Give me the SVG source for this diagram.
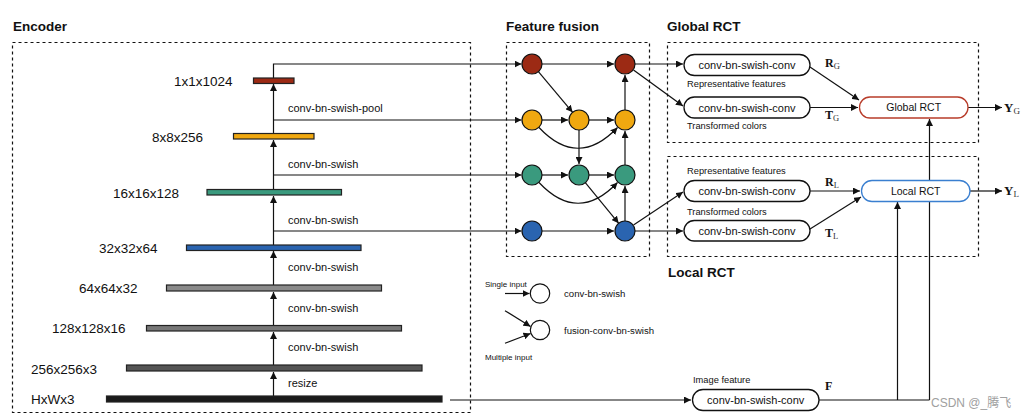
<svg xmlns="http://www.w3.org/2000/svg" width="1027" height="419" viewBox="0 0 1027 419">
<style>
.t{font-family:"Liberation Sans",Arial,sans-serif;fill:#111}
.title{font-family:"Liberation Sans",Arial,sans-serif;font-weight:bold;font-size:13.5px;fill:#111}
.dim{font-size:13.5px}
.op{font-size:11px}
.pt{font-size:11px}
.small{font-size:9.3px}
.leg{font-size:8px}
.box{fill:none;stroke:#111;stroke-width:1.2;stroke-dasharray:3,3}
.bar{stroke:#222;stroke-width:1.2}
.ln{fill:none;stroke:#111;stroke-width:1.2}
.arr{fill:none;stroke:#111;stroke-width:1.2;marker-end:url(#ah)}
.node{stroke:#111;stroke-width:1.2}
.pill{fill:#fff;stroke:#111;stroke-width:1.3}
.m{font-family:"Liberation Serif","Times New Roman",serif;font-weight:bold;fill:#111}
.sub{font-family:"Liberation Serif","Times New Roman",serif;font-weight:normal;fill:#333}
</style>
<defs>
<marker id="ah" viewBox="0 0 10 10" refX="10" refY="5" markerWidth="7" markerHeight="7" markerUnits="userSpaceOnUse" orient="auto">
<path d="M0,0 L10,5 L0,10 z" fill="#111"/>
</marker>
</defs>
<rect width="1027" height="419" fill="#fff"/>

<!-- titles -->
<text class="title" x="13" y="31">Encoder</text>
<text class="title" x="506" y="31">Feature fusion</text>
<text class="title" x="667" y="31">Global RCT</text>
<text class="title" x="668" y="277">Local RCT</text>

<!-- dashed boxes -->
<rect class="box" x="12.5" y="42.5" width="458" height="370"/>
<rect class="box" x="506.5" y="42.5" width="143" height="214"/>
<rect class="box" x="667.5" y="42.5" width="311" height="100"/>
<rect class="box" x="667.5" y="156.5" width="311" height="100"/>

<!-- connectors -->
<g id="connectors">
  <!-- encoder vertical -->
  <line class="arr" x1="273.5" y1="396" x2="273.5" y2="372"/>
  <line class="arr" x1="273.5" y1="365" x2="273.5" y2="332"/>
  <line class="arr" x1="273.5" y1="325" x2="273.5" y2="292"/>
  <line class="arr" x1="273.5" y1="285" x2="273.5" y2="251"/>
  <line class="arr" x1="273.5" y1="245" x2="273.5" y2="196"/>
  <line class="arr" x1="273.5" y1="189" x2="273.5" y2="140"/>
  <line class="arr" x1="273.5" y1="133" x2="273.5" y2="84"/>
  <!-- encoder to fusion -->
  <path class="arr" d="M273.5,78 V64 H521.5"/>
  <path class="arr" d="M273.5,120 H521.5"/>
  <path class="arr" d="M273.5,175 H521.5"/>
  <path class="arr" d="M273.5,231 H521.5"/>
  <!-- fusion internal -->
  <line class="arr" x1="542" y1="64" x2="614" y2="64"/>
  <line class="arr" x1="538.4" y1="71.7" x2="572.6" y2="112.3"/>
  <line class="arr" x1="542" y1="120" x2="568" y2="120"/>
  <line class="arr" x1="589" y1="120" x2="614" y2="120"/>
  <path class="arr" d="M539,127.5 Q578,169 617.5,127.5"/>
  <line class="arr" x1="579" y1="130" x2="579" y2="164"/>
  <line class="arr" x1="542" y1="175" x2="568" y2="175"/>
  <line class="arr" x1="589" y1="175" x2="614" y2="175"/>
  <path class="arr" d="M539,182.5 Q578,224 617.5,182.5"/>
  <line class="arr" x1="585.3" y1="182.7" x2="618.7" y2="223.3"/>
  <line class="arr" x1="542" y1="231" x2="614" y2="231"/>
  <line class="arr" x1="625" y1="221" x2="625" y2="186"/>
  <line class="arr" x1="625" y1="165" x2="625" y2="131"/>
  <line class="arr" x1="625" y1="110" x2="625" y2="75"/>
  <!-- fusion outputs -->
  <line class="arr" x1="635" y1="64" x2="683" y2="64"/>
  <line class="arr" x1="633.5" y1="70" x2="683" y2="106"/>
  <line class="arr" x1="633.5" y1="225" x2="683" y2="192"/>
  <line class="arr" x1="635" y1="231" x2="683" y2="231"/>
  <!-- RCT -->
  <line class="arr" x1="810" y1="67" x2="859" y2="100"/>
  <line class="arr" x1="810" y1="107.5" x2="858" y2="107.5"/>
  <line class="arr" x1="968" y1="107.5" x2="1002" y2="107.5"/>
  <line class="arr" x1="810" y1="191" x2="860" y2="191"/>
  <line class="arr" x1="810" y1="229" x2="861" y2="197"/>
  <line class="arr" x1="970" y1="191" x2="1002" y2="191"/>
  <!-- image feature -->
  <line class="arr" x1="450" y1="400" x2="691" y2="400"/>
  <path class="ln" d="M819,400 H929.5"/>
  <line class="arr" x1="897.5" y1="400" x2="897.5" y2="202"/>
  <line class="arr" x1="929.5" y1="400" x2="929.5" y2="119"/>
  <!-- legend -->
  <line class="arr" x1="505" y1="293.5" x2="529.5" y2="293.5"/>
  <line class="arr" x1="505" y1="310.7" x2="530.5" y2="326.5"/>
  <line class="arr" x1="505" y1="343.3" x2="530.5" y2="333.5"/>
</g>

<!-- encoder bars -->
<g id="enc-1x1x1024"><rect class="bar" x="253.5" y="78" width="40.5" height="5.5" fill="#9c2a14"/><text class="t dim" x="174" y="86">1x1x1024</text></g>
<g id="enc-8x8x256"><rect class="bar" x="233.5" y="133.5" width="80.5" height="5.5" fill="#f0a810"/><text class="t dim" x="152" y="142">8x8x256</text></g>
<g id="enc-16x16x128"><rect class="bar" x="207" y="189.5" width="134.5" height="5.5" fill="#3a9a7e"/><text class="t dim" x="113" y="197.5">16x16x128</text></g>
<g id="enc-32x32x64"><rect class="bar" x="186.5" y="245" width="174.5" height="5.5" fill="#2a64b0"/><text class="t dim" x="99" y="252.5">32x32x64</text></g>
<g id="enc-64x64x32"><rect class="bar" x="166.5" y="285" width="215" height="6" fill="#8a8a8a"/><text class="t dim" x="79" y="293">64x64x32</text></g>
<g id="enc-128x128x16"><rect class="bar" x="146.5" y="325.5" width="255" height="5.5" fill="#777"/><text class="t dim" x="52" y="333">128x128x16</text></g>
<g id="enc-256x256x3"><rect class="bar" x="126.5" y="365" width="295.5" height="6" fill="#555"/><text class="t dim" x="31" y="374">256x256x3</text></g>
<g id="enc-HxWx3"><rect class="bar" x="106.5" y="396" width="335.5" height="6" fill="#1a1a1a"/><text class="t dim" x="31" y="404">HxWx3</text></g>

<!-- encoder op labels -->
<g id="enc-ops">
<text class="t op" x="288" y="112">conv-bn-swish-pool</text>
<text class="t op" x="288" y="168">conv-bn-swish</text>
<text class="t op" x="288" y="224">conv-bn-swish</text>
<text class="t op" x="288" y="271">conv-bn-swish</text>
<text class="t op" x="288" y="312">conv-bn-swish</text>
<text class="t op" x="288" y="351">conv-bn-swish</text>
<text class="t op" x="288" y="387">resize</text>
</g>

<!-- fusion nodes -->
<g id="f-r1"><circle class="node" cx="532" cy="64" r="10" fill="#9c2a14"/></g>
<g id="f-r3"><circle class="node" cx="625" cy="64" r="10" fill="#9c2a14"/></g>
<g id="f-o1"><circle class="node" cx="532" cy="120" r="10" fill="#f0a810"/></g>
<g id="f-o2"><circle class="node" cx="579" cy="120" r="10" fill="#f0a810"/></g>
<g id="f-o3"><circle class="node" cx="625" cy="120" r="10" fill="#f0a810"/></g>
<g id="f-t1"><circle class="node" cx="532" cy="175" r="10" fill="#3a9a7e"/></g>
<g id="f-t2"><circle class="node" cx="579" cy="175" r="10" fill="#3a9a7e"/></g>
<g id="f-t3"><circle class="node" cx="625" cy="175" r="10" fill="#3a9a7e"/></g>
<g id="f-b1"><circle class="node" cx="532" cy="231" r="10" fill="#2a64b0"/></g>
<g id="f-b3"><circle class="node" cx="625" cy="231" r="10" fill="#2a64b0"/></g>

<!-- Global RCT branch -->
<g id="g-rep"><rect class="pill" x="684" y="54.5" width="126" height="21" rx="10.5"/><text class="t pt" x="747" y="69" text-anchor="middle">conv-bn-swish-conv</text><text class="t small" x="687" y="87">Representative features</text></g>
<g id="g-trans"><rect class="pill" x="684" y="97" width="126" height="21" rx="10.5"/><text class="t pt" x="747" y="111.5" text-anchor="middle">conv-bn-swish-conv</text><text class="t small" x="687" y="129">Transformed colors</text></g>
<g id="global-rct"><rect class="pill" x="859.5" y="97" width="108.5" height="21" rx="10.5" style="stroke:#b83c2a"/><text class="t" font-size="10.5" x="913.7" y="111.3" text-anchor="middle">Global RCT</text></g>
<g id="lbl-RG"><text class="m" font-size="12" x="825" y="67">R<tspan class="sub" font-size="8.5" dy="2">G</tspan></text></g>
<g id="lbl-TG"><text class="m" font-size="12" x="825" y="119">T<tspan class="sub" font-size="8.5" dy="2">G</tspan></text></g>
<g id="lbl-YG"><text class="m" font-size="13" x="1004" y="111.5">Y<tspan class="sub" font-size="9" dy="2">G</tspan></text></g>

<!-- Local RCT branch -->
<g id="l-rep"><rect class="pill" x="684" y="180.5" width="126" height="21" rx="10.5"/><text class="t pt" x="747" y="195" text-anchor="middle">conv-bn-swish-conv</text><text class="t small" x="687" y="174">Representative features</text></g>
<g id="l-trans"><rect class="pill" x="684" y="220.5" width="126" height="20.5" rx="10.25"/><text class="t pt" x="747" y="235" text-anchor="middle">conv-bn-swish-conv</text><text class="t small" x="687" y="215">Transformed colors</text></g>
<g id="local-rct"><rect class="pill" x="861.5" y="180.5" width="108.5" height="21" rx="10.5" style="stroke:#3a7fd0"/><text class="t" font-size="10.5" x="915.7" y="194.8" text-anchor="middle">Local RCT</text></g>
<g id="lbl-RL"><text class="m" font-size="12" x="825" y="186">R<tspan class="sub" font-size="8.5" dy="2">L</tspan></text></g>
<g id="lbl-TL"><text class="m" font-size="12" x="825" y="237">T<tspan class="sub" font-size="8.5" dy="2">L</tspan></text></g>
<g id="lbl-YL"><text class="m" font-size="13" x="1004" y="195">Y<tspan class="sub" font-size="9" dy="2">L</tspan></text></g>

<!-- image feature -->
<g id="img-feat"><rect class="pill" x="692.5" y="389.5" width="126.5" height="21" rx="10.5"/><text class="t pt" x="755.7" y="404" text-anchor="middle">conv-bn-swish-conv</text><text class="t small" x="693" y="383">Image feature</text></g>
<g id="lbl-F"><text class="m" font-size="12" x="825" y="390">F</text></g>

<!-- legend -->
<g id="legend">
<text class="t leg" x="485" y="287">Single input</text>
<circle cx="540" cy="293.5" r="9.7" fill="#fff" stroke="#111" stroke-width="1.2"/>
<text class="t" font-size="9.6" x="564" y="297">conv-bn-swish</text>
<circle cx="540" cy="330" r="9.7" fill="#fff" stroke="#111" stroke-width="1.2"/>
<text class="t" font-size="9.6" x="564" y="334">fusion-conv-bn-swish</text>
<text class="t leg" x="485" y="360">Multiple input</text>
</g>

<text font-family="'Liberation Sans','Noto Sans CJK SC',sans-serif" font-size="12" fill="#a0a0a0" x="931" y="407">CSDN @_腾飞</text>
</svg>
